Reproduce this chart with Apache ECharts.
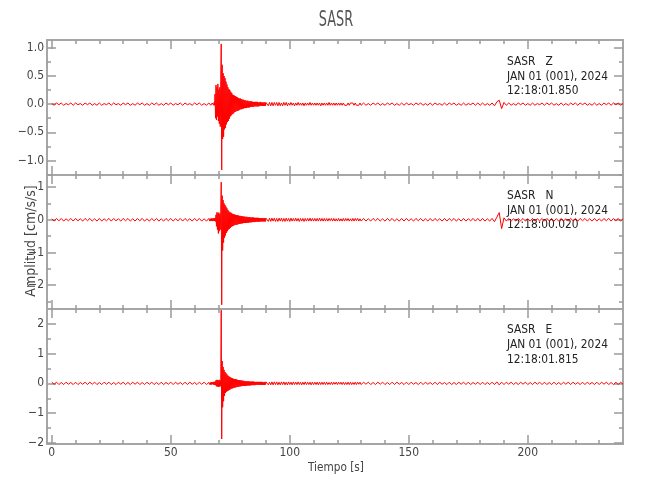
<!DOCTYPE html>
<html>
<head>
<meta charset="utf-8">
<script src="https://cdn.jsdelivr.net/npm/echarts@6/dist/echarts.min.js"></script>
<style>html,body{margin:0;padding:0;background:#fff;}#c{width:650px;height:500px;}</style>
</head>
<body>
<div id="c"></div>
<script>
// ---------- DATA ----------
const chartTitle = 'SASR';
const xAxisName = 'Tiempo [s]';
const yAxisName = 'Amplitud [cm/s/s]';
const xTickLabels = [0, 50, 100, 150, 200];
const xMinorTicks = [10, 20, 30, 40, 60, 70, 80, 90, 110, 120, 130, 140, 160, 170, 180, 190, 210, 220, 230];
// sample-time segments: [start, end, step] (s)
const timeSegments = [[0, 66, 1], [66.2, 90, 0.2], [90.5, 130, 0.5], [131, 240, 1]];

const componentNames = ['Z', 'N', 'E'];
const infoLines = {
  Z: ['SASR   Z', 'JAN 01 (001), 2024', '12:18:01.850'],
  N: ['SASR   N', 'JAN 01 (001), 2024', '12:18:00.020'],
  E: ['SASR   E', 'JAN 01 (001), 2024', '12:18:01.815']
};
const yTicksZ = [-1, -0.5, 0, 0.5, 1];
const yMinorZ = [-1.25, -0.75, -0.25, 0.25, 0.75];
const yTicksN = [-2, -1, 0, 1];
const yMinorN = [-2.5, -1.5, -0.5, 0.5];
const yTicksE = [-2, -1, 0, 1, 2];
const yMinorE = [-1.5, -0.5, 0.5, 1.5];

// Z component
const zSegA = [0.01,-0.02,0.02,-0.01,0.02,-0.02,0.01,-0.01,0.02,-0.02,
0.02,-0.01,0.01,-0.02,0.02,-0.01,0.02,-0.02,0.01,-0.02,
0.02,-0.02,0.01,-0.01,0.02,-0.02,0.02,-0.01,0.01,-0.02,
0.02,-0.01,0.02,-0.02,0.01,-0.02,0.02,-0.01,0.02,-0.02,
0.01,-0.02,0.02,-0.01,0.02,-0.02,0.01,-0.02,0.02,-0.01,
0.02,-0.02,0.01,-0.01,0.02,-0.02,0.02,-0.01,0.01,-0.02,
0.02,-0.01,0.02,-0.02,0.01,-0.02,0.02];
const zSegB = [0.02,-0.01,0.02,-0.02,0.01,-0.02,0.02,-0.01,0.02,-0.02,0.03,-0.02,
0.18,-0.25,0.34,-0.28,0.3,-0.22,0.36,-0.3,0.26,-0.35,0.3,-0.4,0.45,
1.07,-1.17,
0.7,-0.62,0.55,-0.58,0.5,-0.45,0.46,-0.42,
0.4,-0.36,0.35,-0.32,0.3,-0.3,0.27,-0.26,0.25,-0.22,
0.22,-0.2,0.2,-0.18,0.17,-0.17,0.16,-0.15,0.15,-0.14,0.14,-0.13,0.13,-0.12,0.12,
-0.12,0.11,-0.11,0.1,-0.1,0.1,-0.09,0.09,-0.09,0.08,-0.08,0.08,-0.08,0.07,-0.07,0.07,-0.07,0.06,-0.07,0.06,
-0.06,0.06,-0.06,0.05,-0.06,0.05,-0.05,0.05,-0.05,0.05,-0.05,0.04,-0.05,0.04,-0.04,0.04,-0.04,0.04,-0.04,0.04,
-0.04,0.04,-0.04,0.03,-0.04,0.03,-0.03,0.04,-0.03,0.03,-0.03,0.03,-0.03,0.03,-0.03,0.03,-0.03,0.03,-0.03,0.03];
const zSegC = [0.03,-0.03,0.03,-0.03,0.03,-0.03,0.03,-0.02,0.03,-0.03,
0.03,-0.03,0.02,-0.03,0.03,-0.02,0.03,-0.03,0.02,-0.02,
0.03,-0.02,0.02,-0.03,0.02,-0.02,0.03,-0.02,0.02,-0.02,
0.02,-0.03,0.02,-0.02,0.02,-0.02,0.03,-0.02,0.02,-0.02,
0.02,-0.02,0.02,-0.02,0.02,-0.03,0.02,-0.02,0.02,-0.02,
0.02,-0.02,0.03,-0.02,0.02,-0.02,0.02,-0.02,0.02,-0.02,
0.02,-0.02,0.02,-0.02,0.02,-0.02,0.01,-0.02,0.02,-0.02,
0.02,-0.01,0.02,-0.02,0.02,-0.02,0.01,-0.02,0.02,-0.02];
const zSegD = [0.02,-0.02,0.01,-0.02,0.02,-0.01,0.02,-0.02,0.01,-0.02,
0.02,-0.01,0.02,-0.02,0.01,-0.02,0.02,-0.02,0.02,-0.01,
0.01,-0.02,0.02,-0.01,0.02,-0.02,0.01,-0.02,0.02,-0.02,
0.02,-0.01,0.01,-0.02,0.02,-0.02,0.02,-0.01,0.02,-0.02,
0.01,-0.02,0.02,-0.02,0.01,-0.01,0.02,-0.02,0.02,-0.02,
0.02,-0.02,0.01,-0.02,0.02,-0.03,0.04,0.07,-0.08,0.03,
-0.02,0.02,-0.02,0.01,-0.02,0.02,-0.01,0.02,-0.02,0.01,
-0.02,0.02,-0.02,0.01,-0.01,0.02,-0.02,0.02,-0.01,0.02,
-0.02,0.01,-0.02,0.02,-0.02,0.01,-0.02,0.02,-0.01,0.02,
-0.02,0.02,-0.01,0.02,-0.02,0.01,-0.02,0.02,-0.02,0.01,
-0.02,0.02,-0.01,0.02,-0.02,0.02,-0.01,0.02,-0.02,0.01];

// N component
const nSegA = [0.03,-0.04,0.04,-0.03,0.04,-0.04,0.03,-0.03,0.04,-0.04,
0.04,-0.03,0.03,-0.04,0.04,-0.03,0.04,-0.04,0.03,-0.04,
0.04,-0.04,0.03,-0.03,0.04,-0.04,0.04,-0.03,0.03,-0.04,
0.04,-0.03,0.04,-0.04,0.03,-0.04,0.04,-0.03,0.04,-0.04,
0.03,-0.04,0.04,-0.03,0.04,-0.04,0.03,-0.04,0.04,-0.03,
0.04,-0.04,0.03,-0.03,0.04,-0.04,0.04,-0.03,0.03,-0.04,
0.04,-0.03,0.04,-0.04,0.03,-0.04,0.04];
const nSegB = [0.04,-0.04,0.03,-0.04,0.04,-0.03,0.04,-0.04,0.04,-0.03,0.05,-0.04,0.05,-0.05,
0.15,-0.2,0.23,-0.3,0.2,-0.42,0.22,-0.35,0.18,-0.3,0.25,
1.15,-2.6,
0.74,-0.94,0.6,-0.7,0.5,-0.55,0.45,-0.48,
0.4,-0.4,0.35,-0.35,0.3,-0.3,0.26,-0.28,0.23,-0.25,
0.22,-0.22,0.2,-0.2,0.18,-0.19,0.17,-0.17,0.16,-0.16,0.15,-0.15,0.14,-0.15,0.14,
-0.14,0.13,-0.13,0.12,-0.13,0.12,-0.12,0.11,-0.11,0.11,-0.11,0.1,-0.1,0.1,-0.1,0.09,-0.1,0.09,-0.09,0.09,
-0.09,0.08,-0.09,0.08,-0.08,0.08,-0.08,0.07,-0.08,0.07,-0.07,0.07,-0.07,0.07,-0.07,0.06,-0.07,0.06,-0.06,0.06,
-0.06,0.06,-0.06,0.06,-0.06,0.05,-0.06,0.05,-0.05,0.05,-0.05,0.05,-0.05,0.05,-0.05,0.05,-0.05,0.05,-0.05,0.05];
const nSegC = [0.05,-0.05,0.05,-0.05,0.05,-0.04,0.05,-0.05,0.04,-0.05,
0.05,-0.04,0.05,-0.05,0.04,-0.05,0.05,-0.04,0.04,-0.05,
0.05,-0.04,0.04,-0.04,0.05,-0.04,0.04,-0.05,0.04,-0.04,
0.04,-0.05,0.04,-0.04,0.04,-0.04,0.05,-0.04,0.04,-0.04,
0.04,-0.04,0.04,-0.04,0.05,-0.04,0.04,-0.04,0.04,-0.04,
0.04,-0.04,0.04,-0.03,0.04,-0.04,0.04,-0.04,0.03,-0.04,
0.04,-0.04,0.03,-0.04,0.04,-0.04,0.04,-0.03,0.04,-0.04,
0.03,-0.04,0.04,-0.04,0.04,-0.03,0.04,-0.04,0.03,-0.04];
const nSegD = [0.04,-0.04,0.03,-0.04,0.04,-0.03,0.04,-0.04,0.03,-0.04,
0.04,-0.03,0.04,-0.04,0.03,-0.04,0.04,-0.04,0.04,-0.03,
0.03,-0.04,0.04,-0.03,0.04,-0.04,0.03,-0.04,0.04,-0.04,
0.04,-0.03,0.03,-0.04,0.04,-0.04,0.04,-0.03,0.04,-0.04,
0.03,-0.04,0.04,-0.04,0.03,-0.03,0.04,-0.04,0.04,-0.04,
0.04,-0.04,0.03,-0.04,0.04,-0.06,0.08,0.22,-0.27,0.06,
-0.04,0.04,-0.04,0.03,-0.04,0.04,-0.03,0.04,-0.04,0.03,
-0.04,0.04,-0.04,0.03,-0.03,0.04,-0.04,0.04,-0.03,0.04,
-0.04,0.03,-0.04,0.04,-0.04,0.03,-0.04,0.04,-0.03,0.04,
-0.04,0.04,-0.03,0.04,-0.04,0.03,-0.04,0.04,-0.04,0.03,
-0.04,0.04,-0.03,0.04,-0.04,0.04,-0.03,0.04,-0.04,0.03];

// E component
const eSegA = [0.04,-0.03,0.04,-0.04,0.03,-0.04,0.04,-0.03,0.03,-0.04,
0.04,-0.04,0.03,-0.03,0.04,-0.04,0.04,-0.03,0.04,-0.04,
0.03,-0.04,0.04,-0.03,0.04,-0.04,0.03,-0.04,0.04,-0.03,
0.04,-0.04,0.03,-0.04,0.04,-0.03,0.04,-0.04,0.03,-0.04,
0.04,-0.03,0.04,-0.04,0.03,-0.04,0.04,-0.04,0.03,-0.03,
0.04,-0.04,0.04,-0.03,0.03,-0.04,0.04,-0.04,0.04,-0.03,
0.03,-0.04,0.04,-0.03,0.04,-0.04,0.03];
const eSegB = [0.04,-0.04,0.03,-0.04,0.04,-0.04,0.04,-0.03,0.05,-0.04,0.05,-0.05,0.06,-0.06,
0.1,-0.1,0.12,-0.1,0.11,-0.12,0.1,-0.11,0.12,-0.1,0.13,
2.45,-1.86,
0.75,-0.8,0.55,-0.6,0.45,-0.42,0.38,-0.32,
0.34,-0.28,0.3,-0.26,0.26,-0.24,0.24,-0.22,0.21,-0.2,
0.2,-0.18,0.18,-0.17,0.17,-0.16,0.15,-0.15,0.14,-0.14,0.14,-0.13,0.13,-0.12,0.12,
-0.12,0.11,-0.11,0.11,-0.1,0.1,-0.1,0.1,-0.09,0.09,-0.09,0.09,-0.08,0.08,-0.08,0.08,-0.08,0.07,-0.08,0.07,
-0.07,0.07,-0.07,0.07,-0.07,0.06,-0.07,0.06,-0.06,0.06,-0.06,0.06,-0.06,0.06,-0.06,0.05,-0.06,0.05,-0.05,0.05,
-0.05,0.05,-0.05,0.05,-0.05,0.05,-0.05,0.05,-0.05,0.05,-0.05,0.05,-0.05,0.04,-0.05,0.04,-0.05,0.05,-0.04,0.05];
const eSegC = [0.05,-0.05,0.04,-0.05,0.05,-0.05,0.05,-0.04,0.05,-0.05,
0.04,-0.05,0.05,-0.04,0.05,-0.05,0.04,-0.05,0.05,-0.04,
0.04,-0.05,0.05,-0.04,0.04,-0.04,0.05,-0.04,0.04,-0.05,
0.04,-0.04,0.05,-0.04,0.04,-0.04,0.04,-0.05,0.04,-0.04,
0.04,-0.04,0.04,-0.05,0.04,-0.04,0.04,-0.04,0.04,-0.04,
0.04,-0.04,0.03,-0.04,0.04,-0.04,0.04,-0.03,0.04,-0.04,
0.04,-0.03,0.04,-0.04,0.04,-0.04,0.03,-0.04,0.04,-0.04,
0.04,-0.04,0.03,-0.04,0.04,-0.04,0.04,-0.03,0.04,-0.04];
const eSegD = [0.04,-0.03,0.04,-0.04,0.03,-0.04,0.04,-0.03,0.04,-0.04,
0.03,-0.04,0.04,-0.04,0.04,-0.03,0.03,-0.04,0.04,-0.04,
0.04,-0.03,0.03,-0.04,0.04,-0.04,0.04,-0.03,0.03,-0.04,
0.04,-0.04,0.04,-0.03,0.03,-0.04,0.04,-0.04,0.03,-0.04,
0.04,-0.03,0.04,-0.04,0.04,-0.04,0.03,-0.03,0.04,-0.04,
0.04,-0.04,0.03,-0.04,0.04,-0.04,0.05,-0.05,0.04,-0.04,
0.04,-0.03,0.04,-0.04,0.03,-0.04,0.04,-0.03,0.04,-0.04,
0.03,-0.04,0.04,-0.03,0.04,-0.04,0.04,-0.04,0.03,-0.04,
0.04,-0.04,0.03,-0.04,0.04,-0.03,0.04,-0.04,0.04,-0.03,
0.03,-0.04,0.04,-0.04,0.04,-0.03,0.03,-0.04,0.04,-0.04,
0.04,-0.03,0.04,-0.04,0.03,-0.04,0.04,-0.04,0.04,-0.03];

const zValues = [...zSegA, ...zSegB, ...zSegC, ...zSegD];
const nValues = [...nSegA, ...nSegB, ...nSegC, ...nSegD];
const eValues = [...eSegA, ...eSegB, ...eSegC, ...eSegD];

// ---------- BUILD ----------
function buildTimes() {
  const t = [];
  for (const [a, b, s] of timeSegments) {
    const n = Math.round((b - a) / s);
    for (let i = 0; i <= n; i++) t.push(Math.round((a + i * s) * 10) / 10);
  }
  return t;
}
const times = buildTimes();

const FONT = "'DejaVu Sans Condensed','Liberation Sans',sans-serif";
const tickColor = '#9a9a9a';
const labelColor = '#444';
const X_MIN = -2, X_MAX = 240;
const gridLeft = 47, gridWidth = 576;

const panels = [
  { key: 'Z', values: zValues, min: -1.26, max: 1.14, major: yTicksZ, minor: yMinorZ, dec: 1, top: 40, height: 135, infoY: [62, 76.5, 91] },
  { key: 'N', values: nValues, min: -2.73, max: 1.37, major: yTicksN, minor: yMinorN, dec: 0, top: 175, height: 134, infoY: [196, 210.5, 225] },
  { key: 'E', values: eValues, min: -2.03, max: 2.49, major: yTicksE, minor: yMinorE, dec: 0, top: 309, height: 135, infoY: [330, 345, 360] }
];

const grids = [], xAxes = [], yAxes = [], series = [], graphics = [];
const fmtMinus = s => s.replace('-', '\u2212');

panels.forEach((p, pi) => {
  grids.push({ left: gridLeft, width: gridWidth, top: p.top, height: p.height, show: true, borderColor: '#a6a6a6', borderWidth: 2, backgroundColor: 'transparent' });
  const isBottom = pi === panels.length - 1;
  const mkX = (pos, vals, len, showLabel) => ({
    type: 'value', gridIndex: pi, position: pos, min: X_MIN, max: X_MAX,
    axisLine: { show: false, onZero: false }, splitLine: { show: false },
    axisTick: { show: true, inside: true, length: len, customValues: vals, lineStyle: { color: tickColor, width: 1.5 } },
    axisLabel: { show: showLabel, customValues: xTickLabels, margin: 3, color: labelColor, fontSize: 12, fontFamily: FONT }
  });
  xAxes.push(mkX('bottom', xTickLabels, 9, isBottom));
  xAxes.push(mkX('bottom', xMinorTicks, 4, false));
  xAxes.push(mkX('top', xTickLabels, 9, false));
  xAxes.push(mkX('top', xMinorTicks, 4, false));
  const mkY = (pos, vals, len, showLabel) => ({
    type: 'value', gridIndex: pi, position: pos, min: p.min, max: p.max,
    axisLine: { show: false, onZero: false }, splitLine: { show: false },
    axisTick: { show: true, inside: true, length: len, customValues: vals, lineStyle: { color: tickColor, width: 1.5 } },
    axisLabel: { show: showLabel, customValues: p.major, margin: 3, color: labelColor, fontSize: 12, fontFamily: FONT,
      formatter: v => fmtMinus(Number(v).toFixed(p.dec)) }
  });
  yAxes.push(mkY('left', p.major, 9, true));
  yAxes.push(mkY('left', p.minor, 4, false));
  yAxes.push(mkY('right', p.major, 9, false));
  yAxes.push(mkY('right', p.minor, 4, false));

  const n = Math.min(times.length, p.values.length);
  const data = [];
  for (let i = 0; i < n; i++) data.push([times[i], p.values[i]]);
  series.push({
    type: 'line', xAxisIndex: pi * 4, yAxisIndex: pi * 4, data: data,
    showSymbol: false, symbol: 'none', sampling: null, silent: true, animation: false,
    lineStyle: { color: '#ff0000', width: 1 }, clip: true
  });
  infoLines[p.key].forEach((line, li) => {
    graphics.push({ type: 'text', x: 507, y: p.infoY[li], scaleX: 0.91, style: { text: line, fill: '#222', font: '13px ' + FONT, textVerticalAlign: 'middle' } });
  });
  if (times.length !== p.values.length) {
    graphics.push({ type: 'text', left: 100, top: p.top + 10, style: { text: 'LEN ' + p.key + ' ' + p.values.length + '/' + times.length, fill: '#00f', font: '12px sans-serif' } });
  }
});

graphics.push({ type: 'text', x: 336, y: 21, scaleX: 0.68, style: { text: chartTitle, fill: '#555', font: '21px ' + FONT, textAlign: 'center', textVerticalAlign: 'middle' } });
graphics.push({ type: 'text', x: 336, y: 468, scaleX: 0.9, style: { text: xAxisName, fill: '#444', font: '13px ' + FONT, textAlign: 'center', textVerticalAlign: 'middle' } });
graphics.push({ type: 'text', x: 31, y: 241, rotation: Math.PI / 2, style: { text: yAxisName, fill: '#444', font: '14px ' + FONT, textAlign: 'center', textVerticalAlign: 'middle' } });

const chart = echarts.init(document.getElementById('c'), null, { renderer: 'canvas' });
chart.setOption({
  animation: false,
  backgroundColor: '#fff',
  grid: grids, xAxis: xAxes, yAxis: yAxes, series: series, graphic: graphics
});
</script>
</body>
</html>
